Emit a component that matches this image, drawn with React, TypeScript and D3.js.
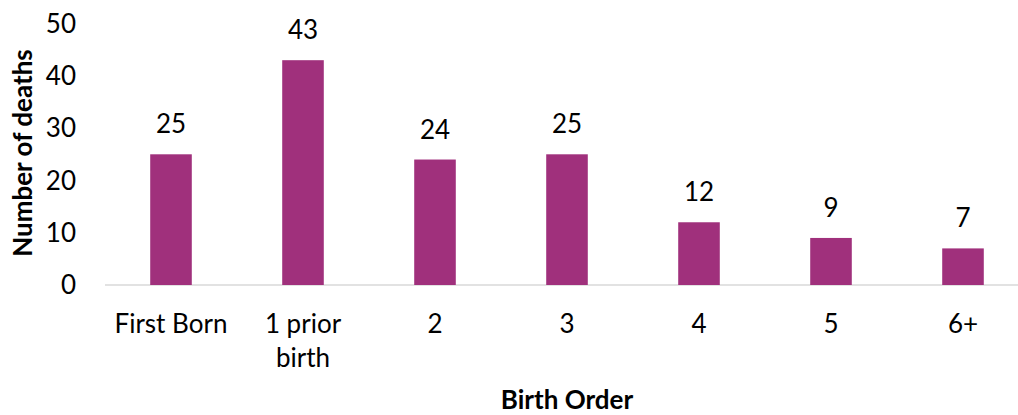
import React, { useEffect, useRef } from 'react';
import * as d3 from 'd3';

const categories = ['First Born', '1 prior birth', '2', '3', '4', '5', '6+'];
const deaths = [25, 43, 24, 25, 12, 9, 7];
const yTicks = [0, 10, 20, 30, 40, 50];

const App = () => {
  const ref = useRef<SVGSVGElement>(null);

  useEffect(() => {
    const svg = d3.select(ref.current);
    svg.selectAll('*').remove();

    const font = 'Lato, Calibri, Carlito, sans-serif';
    const width = 1018;
    const height = 415;

    const x = d3.scaleBand<string>().domain(categories).range([105, 1029]).padding(0);
    const y = d3.scaleLinear().domain([0, 50]).range([285, 23.6]);
    const barW = x.bandwidth() * 0.315;

    svg.attr('width', width).attr('height', height);

    // baseline
    svg.append('line')
      .attr('x1', 105).attr('x2', 1029)
      .attr('y1', y(0)).attr('y2', y(0))
      .attr('stroke', '#d9d9d9').attr('stroke-width', 1.5);

    // y tick labels
    svg.append('g')
      .selectAll('text')
      .data(yTicks)
      .enter()
      .append('text')
      .attr('x', 76)
      .attr('y', d => y(d))
      .attr('dy', '0.35em')
      .attr('text-anchor', 'end')
      .attr('font-family', font)
      .attr('font-size', 26)
      .attr('fill', '#000')
      .text(d => d);

    // bars
    svg.append('g')
      .selectAll('rect')
      .data(deaths)
      .enter()
      .append('rect')
      .attr('x', (d, i) => (x(categories[i]) as number) + (x.bandwidth() - barW) / 2)
      .attr('width', barW)
      .attr('y', d => y(d))
      .attr('height', d => y(0) - y(d))
      .attr('fill', '#a0307c');

    // value labels
    svg.append('g')
      .selectAll('text')
      .data(deaths)
      .enter()
      .append('text')
      .attr('x', (d, i) => (x(categories[i]) as number) + x.bandwidth() / 2)
      .attr('y', d => y(d) - 21)
      .attr('text-anchor', 'middle')
      .attr('font-family', font)
      .attr('font-size', 26)
      .attr('fill', '#000')
      .text(d => d);

    // category labels (wrapped)
    const wrapped: Record<string, string[]> = { '1 prior birth': ['1 prior', 'birth'] };
    const catG = svg.append('g');
    categories.forEach(c => {
      const lines = wrapped[c] || [c];
      const t = catG.append('text')
        .attr('text-anchor', 'middle')
        .attr('font-family', font)
        .attr('font-size', 26)
        .attr('fill', '#000');
      lines.forEach((ln, j) => {
        t.append('tspan')
          .attr('x', (x(c) as number) + x.bandwidth() / 2)
          .attr('y', 333 + j * 34)
          .text(ln);
      });
    });

    // axis titles
    svg.append('text')
      .attr('x', 567)
      .attr('y', 409)
      .attr('text-anchor', 'middle')
      .attr('font-family', font)
      .attr('font-weight', 'bold')
      .attr('font-size', 26)
      .text('Birth Order');

    svg.append('text')
      .attr('transform', 'translate(32,153) rotate(-90)')
      .attr('text-anchor', 'middle')
      .attr('font-family', font)
      .attr('font-weight', 'bold')
      .attr('font-size', 26)
      .text('Number of deaths');
  }, []);

  return (
    <div style={{ position: 'absolute', left: 0, top: 0 }}>
      <svg ref={ref} style={{ display: 'block' }} />
    </div>
  );
};

export default App;
